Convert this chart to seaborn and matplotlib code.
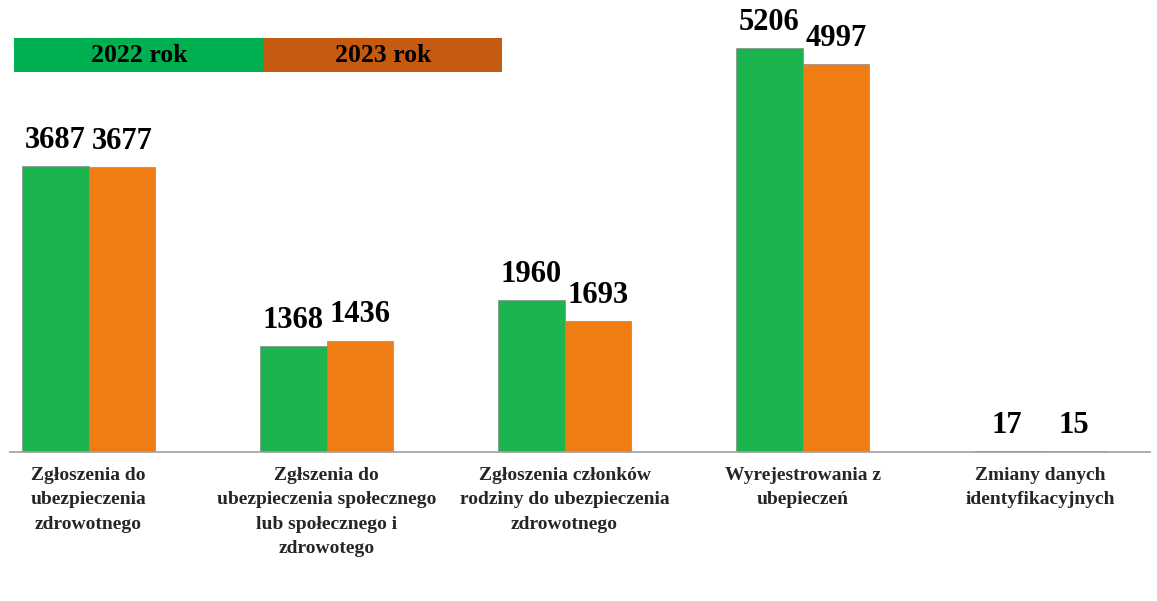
import pandas as pd
import matplotlib.pyplot as plt
import seaborn as sns
from matplotlib.patches import Rectangle

# Data
categories = [
    "Zgłoszenia do\nubezpieczenia\nzdrowotnego",
    "Zgłszenia do\nubezpieczenia społecznego\nlub społecznego i\nzdrowotego",
    "Zgłoszenia członków\nrodziny do ubezpieczenia\nzdrowotnego",
    "Wyrejestrowania z\nubepieczeń",
    "Zmiany danych\nidentyfikacyjnych",
]
years = ["2022 rok", "2023 rok"]
values_2022 = [3687, 1368, 1960, 5206, 17]
values_2023 = [3677, 1436, 1693, 4997, 15]

bar_colors = {"2022 rok": "#1CB44F", "2023 rok": "#F07D14"}
legend_colors = {"2022 rok": "#00B050", "2023 rok": "#C55A11"}

df = pd.DataFrame({
    "Kategoria": categories * 2,
    "Rok": [years[0]] * len(categories) + [years[1]] * len(categories),
    "Liczba": values_2022 + values_2023,
})

sns.set_theme(style="white")
plt.rcParams["font.family"] = ["Liberation Serif", "DejaVu Serif"]

W, H = 1157, 601
fig = plt.figure(figsize=(W / 100, H / 100), dpi=100)
ax = fig.add_axes([10 / W, (H - 452) / H, 1140 / W, 452 / H])

sns.barplot(data=df, x="Kategoria", y="Liczba", hue="Rok", order=categories,
            hue_order=years, palette=bar_colors, saturation=1, width=0.56,
            gap=0, edgecolor="#8a8a8a", linewidth=0.5, legend=False, ax=ax)

ax.set_ylim(0, 5825)
ax.set_xlim(-0.33, 4.46)

# value labels
for p in ax.patches:
    h = p.get_height()
    if h >= 0 and p.get_width() > 0:
        ax.annotate(f"{int(round(h))}", (p.get_x() + p.get_width() / 2, h),
                    ha="center", va="bottom", fontsize=22, fontweight="bold",
                    xytext=(0, 8), textcoords="offset points", color="black")

# axes styling
for s in ["top", "right", "left"]:
    ax.spines[s].set_visible(False)
ax.spines["bottom"].set_color("#a0a0a0")
ax.spines["bottom"].set_linewidth(1.2)
ax.set_yticks([])
ax.set_xlabel("")
ax.set_ylabel("")
ax.set_xticks(range(len(categories)))
ax.set_xticklabels(categories, fontsize=14, fontweight="bold")
for lbl in ax.get_xticklabels():
    lbl.set_linespacing(1.55)
ax.tick_params(axis="x", which="major", length=0, pad=11)
ax.set_xticks([i + 0.5 for i in range(len(categories) - 1)], minor=True)
ax.tick_params(axis="x", which="minor", length=4, color="#a0a0a0", width=1)
ax.grid(False)

# legend drawn as coloured cells at top-left
cells = [(14, 250), (264, 238)]
for (x0, w), yr in zip(cells, years):
    fig.add_artist(Rectangle((x0 / W, (H - 72) / H), w / W, 34 / H,
                             transform=fig.transFigure,
                             facecolor=legend_colors[yr], edgecolor="none"))
    fig.text((x0 + w / 2) / W, (H - 56) / H, yr, ha="center", va="center",
             fontsize=18.5, fontweight="bold", color="black")

fig.savefig("out.png", dpi=100)
